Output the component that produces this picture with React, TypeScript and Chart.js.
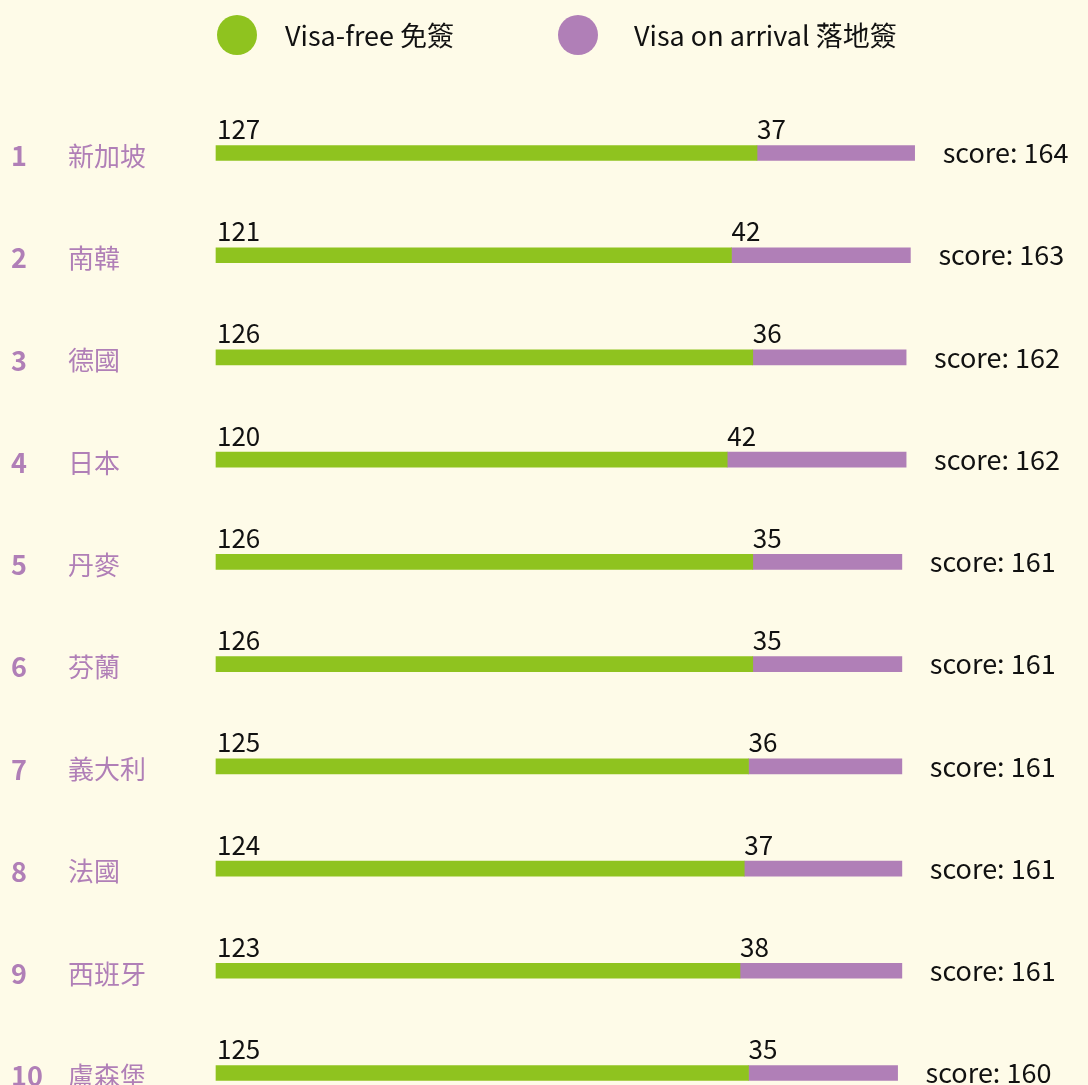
import React, { useEffect, useRef } from "react";
import { Chart, registerables } from "chart.js";

Chart.register(...registerables);

const ranks = ["1", "2", "3", "4", "5", "6", "7", "8", "9", "10"];
const countries = ["新加坡", "南韓", "德國", "日本", "丹麥", "芬蘭", "義大利", "法國", "西班牙", "盧森堡"];
const visaFree = [127, 121, 126, 120, 126, 126, 125, 124, 123, 125];
const visaOnArrival = [37, 42, 36, 42, 35, 35, 36, 37, 38, 35];
const scores = [164, 163, 162, 162, 161, 161, 161, 161, 161, 160];
const seriesNames = ["Visa-free 免簽", "Visa on arrival 落地簽"];

const GREEN = "#8fc31f";
const PURPLE = "#b07fb7";
const BG = "#fefbe8";
const FONT = '"Noto Sans CJK TC", "Noto Sans", sans-serif';

const overlay = {
  id: "overlay",
  afterDatasetsDraw(chart: any) {
    const ctx = chart.ctx;
    ctx.save();
    // legend
    const legendItems = [
      { cx: 237, tx: 285, color: GREEN, label: seriesNames[0] },
      { cx: 578, tx: 634, color: PURPLE, label: seriesNames[1] },
    ];
    legendItems.forEach((it) => {
      ctx.beginPath();
      ctx.fillStyle = it.color;
      ctx.arc(it.cx, 35, 20, 0, Math.PI * 2);
      ctx.fill();
      ctx.fillStyle = "#111";
      ctx.font = `27px ${FONT}`;
      ctx.textAlign = "left";
      ctx.textBaseline = "middle";
      ctx.fillText(it.label, it.tx, 36);
    });
    const m0 = chart.getDatasetMeta(0);
    const m1 = chart.getDatasetMeta(1);
    for (let i = 0; i < countries.length; i++) {
      const g = m0.data[i];
      const p = m1.data[i];
      const y = g.y;
      // rank
      ctx.fillStyle = PURPLE;
      ctx.textBaseline = "middle";
      ctx.textAlign = "left";
      ctx.font = `bold 27px ${FONT}`;
      ctx.fillText(ranks[i], 11, y + 3);
      ctx.font = `26px ${FONT}`;
      ctx.fillText(countries[i], 68, y + 3);
      // value labels
      ctx.fillStyle = "#111";
      ctx.textBaseline = "alphabetic";
      ctx.font = `26px ${FONT}`;
      ctx.fillText(String(visaFree[i]), g.base + 1, y - 14);
      ctx.fillText(String(visaOnArrival[i]), p.base, y - 14);
      // score
      ctx.textBaseline = "middle";
      ctx.font = `27px ${FONT}`;
      ctx.fillText("score: " + scores[i], p.x + 28, y);
    }
    ctx.restore();
  },
};

const bgPlugin = {
  id: "bg",
  beforeDraw(chart: any) {
    const ctx = chart.ctx;
    ctx.save();
    ctx.fillStyle = BG;
    ctx.fillRect(0, 0, chart.width, chart.height);
    ctx.restore();
  },
};

export default function App() {
  const ref = useRef<HTMLCanvasElement | null>(null);
  useEffect(() => {
    if (!ref.current) return;
    const chart = new Chart(ref.current, {
      type: "bar",
      data: {
        labels: countries,
        datasets: [
          {
            label: seriesNames[0],
            data: visaFree,
            backgroundColor: GREEN,
            borderWidth: 0,
            barThickness: 15,
            clip: false as any,
          },
          {
            label: seriesNames[1],
            data: visaOnArrival,
            backgroundColor: PURPLE,
            borderWidth: 0,
            barThickness: 15,
            clip: false as any,
          },
        ],
      },
      options: {
        indexAxis: "y",
        responsive: false,
        devicePixelRatio: 1,
        animation: false,
        layout: { padding: { left: 216, right: 20, top: 153, bottom: 12 } },
        scales: {
          x: { stacked: true, min: 0, max: 200, display: false, grid: { display: false } },
          y: { stacked: true, display: false, offset: false, grid: { display: false } },
        },
        plugins: {
          legend: { display: false },
          tooltip: { enabled: false },
        },
      },
      plugins: [bgPlugin, overlay],
    });
    return () => chart.destroy();
  }, []);
  return (
    <div style={{ position: "fixed", left: 0, top: 0, width: 1088, height: 1085, background: BG }}>
      <canvas ref={ref} width={1088} height={1085} style={{ display: "block" }} />
    </div>
  );
}
